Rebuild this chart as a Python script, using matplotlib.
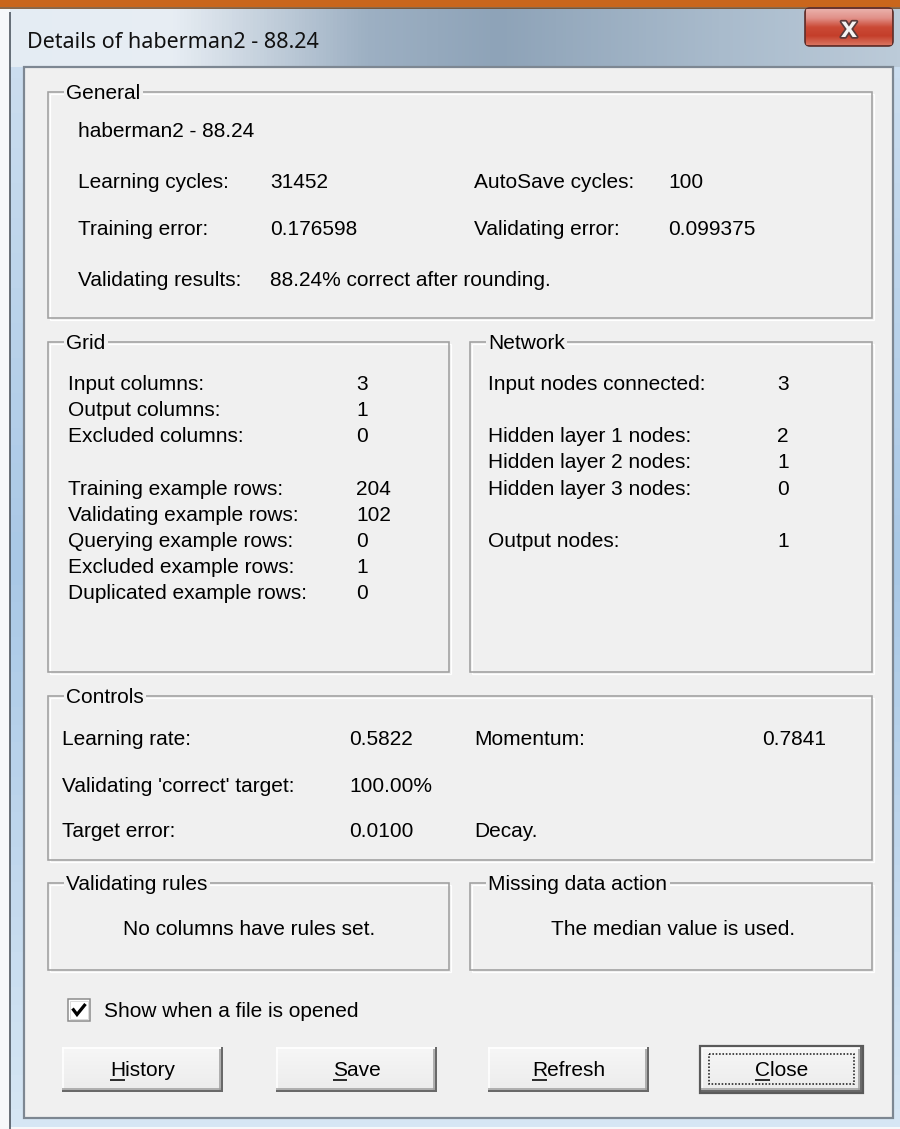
import matplotlib
matplotlib.use("Agg")
import matplotlib.pyplot as plt
import matplotlib.patheffects as pe
import numpy as np
from matplotlib.patches import Rectangle, FancyBboxPatch
from matplotlib.colors import LinearSegmentedColormap

# ---------------- data ----------------
window_title = "Details of haberman2 - 88.24"
general_name = "haberman2 - 88.24"
general_left_labels = ["Learning cycles:", "Training error:", "Validating results:"]
general_left_values = ["31452", "0.176598", "88.24% correct after rounding."]
general_right_labels = ["AutoSave cycles:", "Validating error:", ""]
general_right_values = ["100", "0.099375", ""]

grid_labels = ["Input columns:", "Output columns:", "Excluded columns:", "",
               "Training example rows:", "Validating example rows:",
               "Querying example rows:", "Excluded example rows:",
               "Duplicated example rows:"]
grid_values = ["3", "1", "0", "", "204", "102", "0", "1", "0"]

network_labels = ["Input nodes connected:", "", "Hidden layer 1 nodes:",
                  "Hidden layer 2 nodes:", "Hidden layer 3 nodes:", "",
                  "Output nodes:"]
network_values = ["3", "", "2", "1", "0", "", "1"]

controls_left_labels = ["Learning rate:", "Validating 'correct' target:", "Target error:"]
controls_left_values = ["0.5822", "100.00%", "0.0100"]
controls_right_labels = ["Momentum:", "", "Decay."]
controls_right_values = ["0.7841", "", ""]

group_titles = ["General", "Grid", "Network", "Controls",
                "Validating rules", "Missing data action"]
rules_text = "No columns have rules set."
missing_text = "The median value is used."
checkbox_text = "Show when a file is opened"
button_labels = ["History", "Save", "Refresh", "Close"]

# ---------------- style ----------------
W, H = 900, 1129
BG = "#f0f0f0"
FONT = ["Liberation Sans", "DejaVu Sans"]
FS = 15
TITLE_FONT = ["Noto Sans", "DejaVu Sans"]

fig = plt.figure(figsize=(W / 100, H / 100), dpi=100)
ax = fig.add_axes([0, 0, 1, 1])
ax.set_xlim(0, W)
ax.set_ylim(H, 0)
ax.axis("off")

PX = 0.72  # one pixel in points


def rect(x0, y0, x1, y1, fc="none", ec="none", lw=0, z=1, **kw):
    ax.add_patch(Rectangle((x0, y0), x1 - x0, y1 - y0, facecolor=fc,
                           edgecolor=ec, linewidth=lw, zorder=z, **kw))


def hline(x0, x1, y, c, lw=1, z=3, **kw):
    ax.plot([x0, x1], [y, y], color=c, lw=lw * PX, zorder=z,
            solid_capstyle="butt", **kw)


def vline(x, y0, y1, c, lw=1, z=3, **kw):
    ax.plot([x, x], [y0, y1], color=c, lw=lw * PX, zorder=z,
            solid_capstyle="butt", **kw)


def txt(x, y, s, ha="left", fs=FS, fam=FONT, z=5, **kw):
    return ax.text(x, y, s, ha=ha, va="baseline", fontsize=fs, family=fam,
                   color="#000000", zorder=z, **kw)


# outside / window glass
rect(0, 0, W, H, fc="#f6f8fa", z=0)
glass = LinearSegmentedColormap.from_list("g", ["#cfe0f0", "#a9c8e6", "#d6e6f4"])
ax.imshow(np.linspace(0, 1, 64).reshape(-1, 1), extent=(10, W, H - 2, 8),
          cmap=glass, aspect="auto", zorder=0.5)
# title bar gradient (horizontal)
tstops = [(0.00, "#e4ecf3"), (0.18, "#e8eef4"), (0.40, "#9db0c3"),
          (0.55, "#8ea3b8"), (0.80, "#a9bbcc"), (1.00, "#bccbd9")]
tcmap = LinearSegmentedColormap.from_list("t", tstops)
ax.imshow(np.linspace(0, 1, 256).reshape(1, -1), extent=(10, W, 67, 8),
          cmap=tcmap, aspect="auto", zorder=0.6)
vline(9.5, 12, H, "#3d4650", lw=1.5, z=0.8)
# orange strip on top
rect(0, 0, W, 7, fc="#c9661c", z=2)
hline(0, W, 7.5, "#6a3a10", lw=1.5, z=2)

# client area
rect(24, 67, 893, 1118, fc=BG, ec="#7d8792", lw=2.2 * PX, z=1)

# title text
ax.text(27, 48, window_title, ha="left", va="baseline", fontsize=15.5,
        family=TITLE_FONT, color="#111111", zorder=5)

# close button
cb = FancyBboxPatch((805, 8), 88, 38, boxstyle="round,pad=0,rounding_size=5",
                    facecolor="#c8493a", edgecolor="#5c2e2a", linewidth=1.2,
                    zorder=3)
ax.add_patch(cb)
red = LinearSegmentedColormap.from_list(
    "r", ["#eab0aa", "#e19088", "#cb4a36", "#c43e2a", "#d9735f"])
im = ax.imshow(np.linspace(0, 1, 64).reshape(-1, 1), extent=(806, 892, 45, 9),
               cmap=red, aspect="auto", zorder=3.1)
im.set_clip_path(cb)
ax.text(849, 29, "x", ha="center", va="center", fontsize=21, family=FONT,
        fontweight="bold", color="#f4f4f4", zorder=4,
        path_effects=[pe.withStroke(linewidth=2.5, foreground="#5a3a3a")])


def group(x0, y0, x1, y1, title):
    rect(x0, y0, x1, y1, ec="#a0a0a0", lw=1.6 * PX, z=2)
    rect(x0 + 1.6, y0 + 1.6, x1 + 1.6, y1 + 1.6, ec="#ffffff", lw=1.2 * PX, z=1.9)
    ax.text(x0 + 18, y0 + 7, title, ha="left", va="baseline", fontsize=FS,
            family=FONT, color="#000000", zorder=5,
            bbox=dict(boxstyle="square,pad=0.12", fc=BG, ec="none"))


group(48, 92, 872, 318, group_titles[0])
group(48, 342, 449, 672, group_titles[1])
group(470, 342, 872, 672, group_titles[2])
group(48, 696, 872, 860, group_titles[3])
group(48, 883, 449, 970, group_titles[4])
group(470, 883, 872, 970, group_titles[5])

# General contents
txt(78, 137, general_name)
gen_y = [188, 235, 286]
for i, y in enumerate(gen_y):
    txt(78, y, general_left_labels[i])
    txt(270, y, general_left_values[i])
    if general_right_labels[i]:
        txt(474, y, general_right_labels[i])
        txt(668, y, general_right_values[i])

# Grid contents
row0, step = 390, 26.15
for i, (lab, val) in enumerate(zip(grid_labels, grid_values)):
    if lab:
        txt(68, row0 + i * step, lab)
        txt(356, row0 + i * step, val)

# Network contents
for i, (lab, val) in enumerate(zip(network_labels, network_values)):
    if lab:
        txt(488, row0 + i * step, lab)
        txt(777, row0 + i * step, val)

# Controls contents
ctl_y = [745, 792, 837]
for i, y in enumerate(ctl_y):
    txt(62, y, controls_left_labels[i])
    txt(349, y, controls_left_values[i])
    if controls_right_labels[i]:
        txt(474, y, controls_right_labels[i])
    if controls_right_values[i]:
        txt(762, y, controls_right_values[i])

# rules / missing
txt(249, 935, rules_text, ha="center")
txt(673, 935, missing_text, ha="center")

# checkbox
rect(68, 999, 90, 1021, fc="#ffffff", ec="#8a8a8a", lw=1.5 * PX, z=3)
rect(70, 1001, 88, 1019, fc="none", ec="#dcdcdc", lw=1 * PX, z=3)
ax.plot([72.5, 77.0, 85.5], [1008.5, 1014.5, 1004.0], color="#000000",
        lw=3.2 * PX, zorder=4, solid_joinstyle="miter", solid_capstyle="butt")
txt(104, 1017, checkbox_text)

# buttons
btn_x = [62, 276, 488, 701]
btn_w, by0, by1 = 161, 1047, 1092
fig.canvas.draw()
renderer = fig.canvas.get_renderer()
face = LinearSegmentedColormap.from_list("b", ["#f6f6f6", "#ececec"])
for bx, lab in zip(btn_x, button_labels):
    x0, x1 = bx, bx + btn_w
    rect(x0, by0, x1, by1, fc="#f2f2f2", z=2)
    ax.imshow(np.linspace(0, 1, 16).reshape(-1, 1), extent=(x0, x1, by1, by0),
              cmap=face, aspect="auto", zorder=2.1)
    hline(x0, x1, by0 + 0.8, "#ffffff", lw=1.6, z=3)
    vline(x0 + 0.8, by0, by1, "#ffffff", lw=1.6, z=3)
    hline(x0, x1, by1 - 3.2, "#a0a0a0", lw=1.6, z=3)
    vline(x1 - 3.2, by0 + 2, by1 - 2, "#a0a0a0", lw=1.6, z=3)
    hline(x0, x1 + 0.2, by1 - 1.0, "#696969", lw=2, z=3)
    vline(x1 - 1.0, by0, by1, "#696969", lw=2, z=3)
    if lab == "Close":
        rect(x0 - 1, by0 - 1, x1 + 1, by1 + 1, ec="#5a5a5a", lw=2.2 * PX, z=3.5)
        rect(x0 + 8, by0 + 7, x1 - 8, by1 - 8, ec="#202020", lw=1.6 * PX,
             ls=(0, (1, 1.1)), z=3.5)
    cx = (x0 + x1) / 2
    t = txt(cx, 1076, lab, ha="center")
    bb = t.get_window_extent(renderer)
    first = ax.text(0, 0, lab[0], fontsize=FS, family=FONT)
    fw = first.get_window_extent(renderer).width
    first.remove()
    inv = ax.transData.inverted()
    lx0 = inv.transform((bb.x0, 0))[0]
    hline(lx0, lx0 + fw, 1079.5, "#000000", lw=1.6, z=5)

fig.savefig("out.png", dpi=100, facecolor="white")
